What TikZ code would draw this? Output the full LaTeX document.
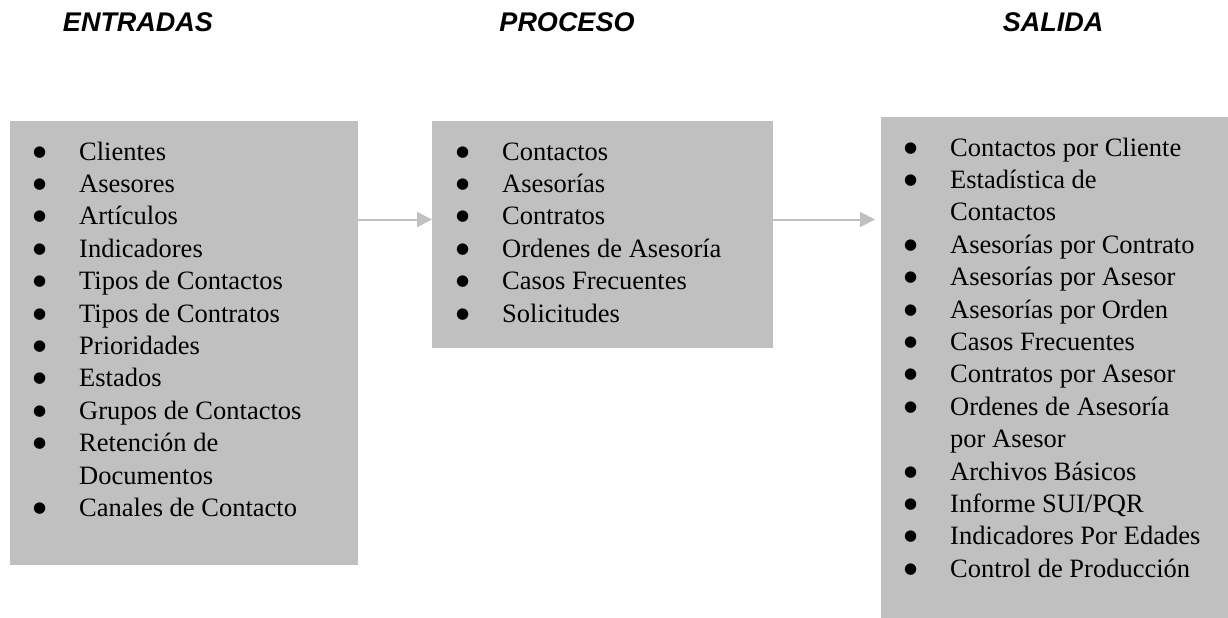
\documentclass[tikz,border=0pt]{standalone}
\usepackage{fontspec}
\setmainfont{Liberation Serif}
\newfontfamily\headfont{Liberation Sans}
\newfontfamily\bulfont{DejaVu Sans}
\usetikzlibrary{arrows.meta}
\definecolor{boxgray}{HTML}{C0C0C0}
\newcommand\bul{\raisebox{4pt}{\bulfont\fontsize{15}{15}\selectfont ●}}
\newcommand\itm[1]{\makebox[46pt][l]{\bul}#1\\}
\newcommand\cnt[1]{\hspace*{46pt}#1\\}
\tikzset{
  box/.style={fill=boxgray, draw=none, anchor=north west, inner sep=0pt, outer sep=0pt},
  lst/.style={anchor=base west, inner sep=0pt, font=\fontsize{26.5}{32.4}\selectfont},
  head/.style={anchor=base, inner sep=0pt, font=\headfont\bfseries\itshape\fontsize{27}{30}\selectfont},
  arr/.style={draw=boxgray, line width=2pt, -{Triangle[length=15pt,width=15pt]}}
}
\begin{document}
\begin{tikzpicture}[x=1pt,y=-1pt]
\useasboundingbox (0,0) rectangle (1228,618);
\node[head] (h1) at (138,32) {ENTRADAS};
\node[head] (h2) at (567,32) {PROCESO};
\node[head] (h3) at (1053,32) {SALIDA};
\node[box, minimum width=348pt, minimum height=444pt] (b1) at (10,121) {};
\node[box, minimum width=341pt, minimum height=227pt] (b2) at (432,121) {};
\node[box, minimum width=347pt, minimum height=501pt] (b3) at (881,117) {};
\node[lst] (l1) at (33,160) {\parbox[t]{320pt}{\raggedright
\itm{Clientes}\itm{Asesores}\itm{Artículos}\itm{Indicadores}\itm{Tipos de Contactos}%
\itm{Tipos de Contratos}\itm{Prioridades}\itm{Estados}\itm{Grupos de Contactos}%
\itm{Retención de}\cnt{Documentos}\itm{Canales de Contacto}}};
\node[lst] (l2) at (456,160) {\parbox[t]{310pt}{\raggedright
\itm{Contactos}\itm{Asesorías}\itm{Contratos}\itm{Ordenes de Asesoría}%
\itm{Casos Frecuentes}\itm{Solicitudes}}};
\node[lst] (l3) at (904,156) {\parbox[t]{320pt}{\raggedright
\itm{Contactos por Cliente}\itm{Estadística de}\cnt{Contactos}%
\itm{Asesorías por Contrato}\itm{Asesorías por Asesor}\itm{Asesorías por Orden}%
\itm{Casos Frecuentes}\itm{Contratos por Asesor}\itm{Ordenes de Asesoría}\cnt{por Asesor}%
\itm{Archivos Básicos}\itm{Informe SUI/PQR}\itm{Indicadores Por Edades}%
\itm{Control de Producción}}};
\coordinate (a) at (0,219.5);
\draw[arr] (b1.east |- a) -- (b2.west |- a);
\draw[arr, shorten >=6pt] (b2.east |- a) -- (b3.west |- a);
\end{tikzpicture}
\end{document}
